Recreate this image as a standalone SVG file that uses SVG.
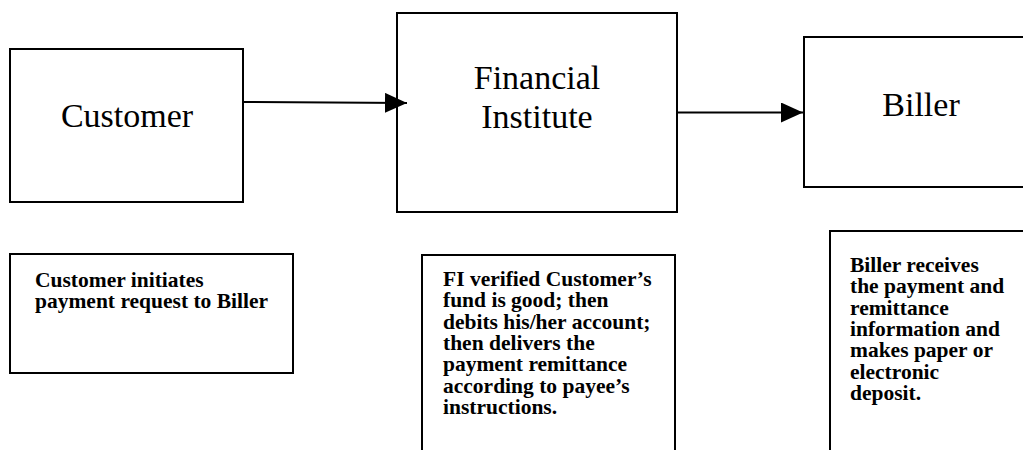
<svg xmlns="http://www.w3.org/2000/svg" width="1023" height="450" viewBox="0 0 1023 450">
  <style>
    .box { fill: #ffffff; stroke: #000000; stroke-width: 2; }
    .title { font-family: "Liberation Serif", "Times New Roman", serif; font-size: 34px; fill: #000000; text-anchor: middle; }
    .desc { font-family: "Liberation Serif", "Times New Roman", serif; font-size: 21.5px; font-weight: bold; fill: #000000; }
    .conn { stroke: #000000; stroke-width: 2; fill: none; }
  </style>
  <defs>
    <marker id="arrow" markerUnits="userSpaceOnUse" markerWidth="22" markerHeight="20" refX="22" refY="10" orient="auto">
      <path d="M0,0 L22,10 L0,20 Z" fill="#000000"/>
    </marker>
  </defs>
  <rect x="0" y="0" width="1023" height="450" fill="#ffffff"/>

  <g id="customer">
    <rect class="box" x="10" y="49" width="233" height="153"/>
    <text class="title" x="127" y="127">Customer</text>
  </g>

  <g id="financial-institute">
    <rect class="box" x="397" y="13" width="280" height="199"/>
    <text class="title" x="537" y="89">Financial</text>
    <text class="title" x="537" y="128">Institute</text>
  </g>

  <g id="biller">
    <rect class="box" x="804" y="37" width="240" height="150"/>
    <text class="title" x="921" y="116">Biller</text>
  </g>

  <g id="customer-desc">
    <rect class="box" x="10" y="254" width="283" height="119"/>
    <text class="desc" x="35" y="287">Customer initiates</text>
    <text class="desc" x="35" y="308">payment request to Biller</text>
  </g>

  <g id="fi-desc">
    <rect class="box" x="422" y="255" width="253" height="220"/>
    <text class="desc" x="443" y="286">FI verified Customer’s</text>
    <text class="desc" x="443" y="307.3">fund is good; then</text>
    <text class="desc" x="443" y="328.6">debits his/her account;</text>
    <text class="desc" x="443" y="349.9">then delivers the</text>
    <text class="desc" x="443" y="371.2">payment remittance</text>
    <text class="desc" x="443" y="392.5">according to payee’s</text>
    <text class="desc" x="443" y="413.8">instructions.</text>
  </g>

  <g id="biller-desc">
    <rect class="box" x="830" y="231" width="220" height="240"/>
    <text class="desc" x="850" y="272">Biller receives</text>
    <text class="desc" x="850" y="293.3">the payment and</text>
    <text class="desc" x="850" y="314.6">remittance</text>
    <text class="desc" x="850" y="335.9">information and</text>
    <text class="desc" x="850" y="357.2">makes paper or</text>
    <text class="desc" x="850" y="378.5">electronic</text>
    <text class="desc" x="850" y="399.8">deposit.</text>
  </g>

  <g id="connectors">
    <line class="conn" x1="243" y1="102" x2="407" y2="103" marker-end="url(#arrow)"/>
    <line class="conn" x1="677" y1="112.5" x2="803" y2="112.5" marker-end="url(#arrow)"/>
  </g>
</svg>
